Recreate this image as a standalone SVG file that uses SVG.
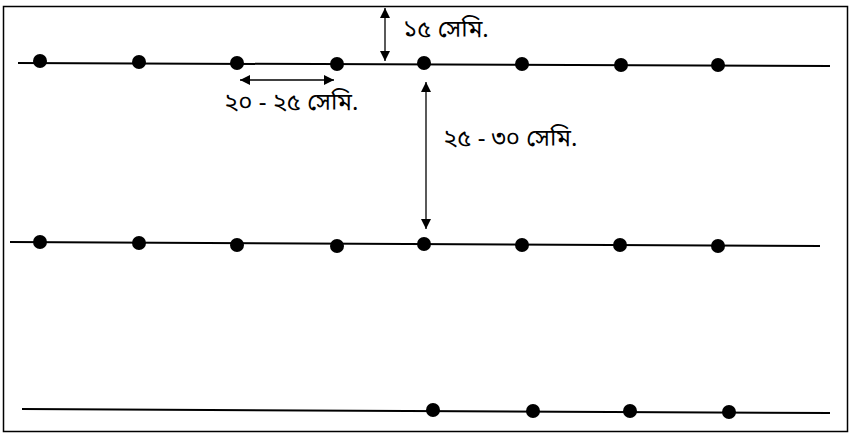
<svg xmlns="http://www.w3.org/2000/svg" width="852" height="438" viewBox="0 0 852 438">
<defs>
<marker id="ah" viewBox="0 0 10 10" refX="10" refY="5" markerWidth="10" markerHeight="10" markerUnits="userSpaceOnUse" orient="auto-start-reverse">
<path d="M0,0 L10,5 L0,10 Z" fill="#000"/>
</marker>
</defs>
<style>
.row{stroke:#000;stroke-width:2;fill:none}
.dot{fill:#000}
.dim{stroke:#000;stroke-width:1.3;fill:none;marker-start:url(#ah);marker-end:url(#ah)}
.lbl{font-family:"Noto Sans Bengali","Noto Sans","DejaVu Sans",sans-serif;font-size:24px;fill:#000}
</style>
<rect x="3.5" y="6.5" width="844" height="425" fill="#fff" stroke="#000" stroke-width="1.5"/>
<g id="rows">
<line class="row" x1="18" y1="63" x2="830" y2="66"/>
<line class="row" x1="10" y1="242" x2="820" y2="246"/>
<line class="row" x1="22" y1="409" x2="830" y2="413"/>
</g>
<g id="row1">
<circle class="dot" cx="40" cy="61" r="7"/>
<circle class="dot" cx="139" cy="62" r="7"/>
<circle class="dot" cx="237" cy="63" r="7"/>
<circle class="dot" cx="337" cy="64" r="7"/>
<circle class="dot" cx="424" cy="63" r="7"/>
<circle class="dot" cx="522" cy="64" r="7"/>
<circle class="dot" cx="621" cy="65" r="7"/>
<circle class="dot" cx="718" cy="65" r="7"/>
</g>
<g id="row2">
<circle class="dot" cx="40" cy="242" r="7"/>
<circle class="dot" cx="139" cy="243" r="7"/>
<circle class="dot" cx="237" cy="245" r="7"/>
<circle class="dot" cx="337" cy="246" r="7"/>
<circle class="dot" cx="424" cy="244" r="7"/>
<circle class="dot" cx="522" cy="245" r="7"/>
<circle class="dot" cx="620" cy="245" r="7"/>
<circle class="dot" cx="718" cy="246" r="7"/>
</g>
<g id="row3">
<circle class="dot" cx="433" cy="410" r="7"/>
<circle class="dot" cx="533" cy="411" r="7"/>
<circle class="dot" cx="630" cy="411" r="7"/>
<circle class="dot" cx="729" cy="412" r="7"/>
</g>
<g id="connectors">
<line class="dim" x1="385" y1="8" x2="385" y2="61"/>
<line class="dim" x1="240" y1="80" x2="334" y2="80"/>
<line class="dim" x1="426" y1="82" x2="426" y2="229"/>
</g>
<g id="labels">
<text class="lbl" x="403" y="37">১৫ সেমি.</text>
<text class="lbl" x="224" y="110">২০ - ২৫ সেমি.</text>
<text class="lbl" x="443" y="146">২৫ - ৩০ সেমি.</text>
</g>
</svg>
